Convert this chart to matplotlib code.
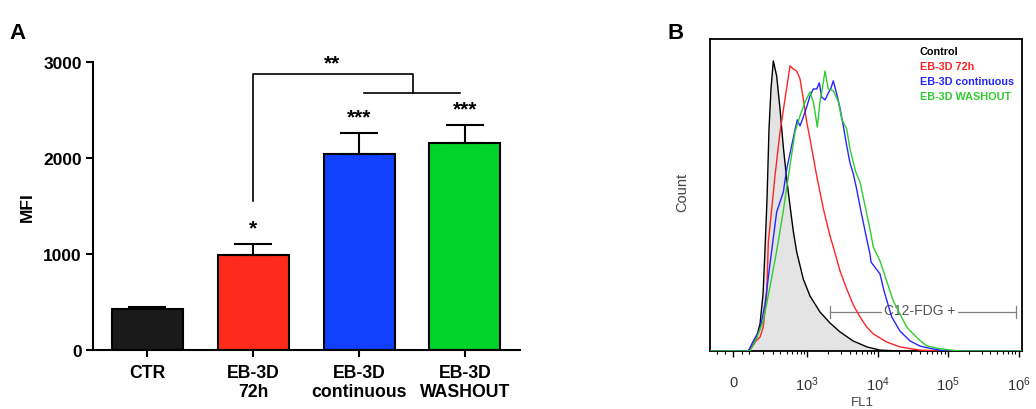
import matplotlib
matplotlib.use("Agg")
import matplotlib.pyplot as plt
import numpy as np

plt.rcParams["font.family"] = ["Liberation Sans", "DejaVu Sans"]
plt.rcParams["mathtext.default"] = "regular"

# ---- panel A: MFI bar chart ----
groups = ["CTR", "EB-3D\n72h", "EB-3D\ncontinuous", "EB-3D\nWASHOUT"]
mfi = [427, 985, 2043, 2161]
mfi_sem = [20, 115, 215, 180]
bar_colors = ["#1a1a1a", "#ff2a1a", "#1240ff", "#00d42a"]
stars = ["", "*", "***", "***"]

# ---- panel B: FL1 histograms (FL1 value, count) ----
ctrl_fl1 = [-147, 91, 118, 147, 178, 204, 222, 241, 261, 282, 308, 349, 394, 443, 499, 559,
            625, 701, 875, 1094, 1519, 2111, 2930, 4481, 7075, 10822, 20799, 1.12e6]
ctrl_cnt = [0, 0, 1.7, 4.2, 9.3, 19.7, 35.3, 52.6, 76.9, 90.7, 100.4, 95.2, 83.8, 70.6, 59.5, 50.2,
            41.5, 34.3, 24.9, 19.0, 13.5, 9.7, 6.6, 3.5, 1.4, 0.3, 0, 0]

h72_fl1 = [-147, 91, 118, 147, 178, 206, 238, 254, 290, 328, 394, 470, 559, 625, 701,
           784, 875, 980, 1094, 1364, 1699, 2111, 2352, 2930, 3644, 4525, 5634, 7011,
           8695, 13475, 20799, 39952, 76843, 1.12e6]
h72_cnt = [0, 0, 1.4, 3.5, 4.8, 8.3, 19.7, 37.7, 49.2, 60.6, 75.8, 87.2, 98.7, 97.6, 96.9,
           94.2, 87.2, 79.3, 73.4, 60.6, 49.2, 39.8, 36.0, 27.7, 21.5, 15.9, 11.8, 8.3,
           5.9, 3.1, 1.4, 0.3, 0, 0]

cont_fl1 = [-147, 93, 127, 178, 222, 271, 349, 443, 499, 592, 663, 716, 784, 875, 980, 1094,
            1220, 1364, 1486, 1607, 1792, 1995, 2160, 2352, 2629, 2930, 3261, 3644, 4061, 4525,
            5057, 5634, 7011, 7805, 8067, 10822, 12344, 15860, 20799, 28836, 39952, 55411,
            76843, 95675, 1.12e6]
cont_cnt = [0, 0, 3.5, 7.6, 16.3, 30.1, 48.1, 55.0, 63.0, 71.1, 76.6, 80.0, 77.9, 81.0, 84.5, 88.3,
            90.7, 90.7, 92.8, 87.9, 86.9, 89.3, 90.7, 93.5, 89.0, 84.0, 78.0, 71.1, 65.1, 61.3,
            56.0, 50.0, 38.8, 33.6, 30.8, 26.7, 20.8, 11.8, 6.9, 3.5, 1.7, 0.9,
            0.3, 0, 0]

wash_fl1 = [-147, 104, 152, 206, 271, 349, 443, 559, 663, 784, 927, 1094, 1220, 1290, 1391, 1519,
            1662, 1792, 1995, 2352, 2784, 3095, 3644, 4061, 4895, 5634, 7805,
            8695, 10822, 13475, 16714, 20799, 25890, 32129, 39952, 49742, 68975, 95675, 147700,
            1.12e6]
wash_cnt = [0, 0, 4.5, 10.4, 22.2, 34.6, 48.5, 64.2, 75.8, 81.4, 86.2, 89.7, 86.2, 82.7, 77.5, 86.2,
            91.7, 96.9, 90.7, 90.1, 86.2, 80.3, 76.9, 69.9, 62.0, 58.5, 42.2,
            36.0, 31.2, 24.2, 17.3, 12.8, 8.3, 5.9, 3.6, 1.8, 1.0, 0.5, 0,
            0]

hist_labels = ["Control", "EB-3D 72h", "EB-3D continuous", "EB-3D WASHOUT"]
hist_colors = ["#000000", "#ff2424", "#2626ff", "#2fcc2f"]
gate = (2111, 9.2e5)
gate_level = 13.5

fig = plt.figure(figsize=(10.36, 4.10), dpi=100)

# ===== Panel A =====
ax = fig.add_axes([0.0898, 0.1439, 0.4122, 0.7024])
x = np.arange(len(groups))
ax.bar(x, mfi, width=0.67, color=bar_colors, edgecolor="black", linewidth=1.5, zorder=2)
ax.errorbar(x, mfi, yerr=[np.zeros(len(mfi)), mfi_sem], fmt="none", ecolor="black",
            elinewidth=1.5, capsize=13.5, capthick=1.5, zorder=3)
for xi, m, s, lab in zip(x, mfi, mfi_sem, stars):
    if lab:
        ax.text(xi, m + s + 170, lab, ha="center", va="center", fontsize=15,
                fontweight="bold")

# bracket: 72h vs (continuous + washout)
kw = dict(color="black", lw=1.2, clip_on=False)
ax.plot([1, 1, 2.51, 2.51], [1554, 2879, 2879, 2681], **kw)
ax.plot([2.05, 2.95], [2681, 2681], **kw)
ax.text(1.75, 2990, "**", ha="center", va="center", fontsize=15, fontweight="bold")

ax.set_xlim(-0.51, 3.52)
ax.set_ylim(0, 3000)
ax.set_yticks([0, 1000, 2000, 3000])
ax.set_xticks(x)
ax.set_xticklabels(groups, fontsize=12.7, fontweight="bold", linespacing=1.2)
for t in ax.get_yticklabels():
    t.set_fontweight("bold")
    t.set_fontsize(12.5)
ax.set_ylabel("MFI", fontsize=12.5, fontweight="bold", labelpad=6)
ax.spines["top"].set_visible(False)
ax.spines["right"].set_visible(False)
ax.spines["left"].set_linewidth(1.5)
ax.spines["bottom"].set_linewidth(1.5)
ax.tick_params(direction="out", length=5, width=1.5, pad=3)
ax.tick_params(axis="x", pad=5)
fig.text(0.009, 0.905, "A", fontsize=16, fontweight="bold")

# ===== Panel B =====
bx = fig.add_axes([0.6853, 0.1415, 0.3012, 0.761])


def fwd(v):
    return np.arcsinh(np.asarray(v) / 178.0) / np.log(10)


def inv(v):
    return 178.0 * np.sinh(np.asarray(v) * np.log(10))


bx.set_xscale("function", functions=(fwd, inv))
bx.fill_between(ctrl_fl1, ctrl_cnt, color="#e4e4e4", lw=0, zorder=1)
series = [(ctrl_fl1, ctrl_cnt), (h72_fl1, h72_cnt), (cont_fl1, cont_cnt), (wash_fl1, wash_cnt)]
order = [0, 1, 3, 2]
for i in order:
    fx, fc = series[i]
    bx.plot(fx, fc, color=hist_colors[i], lw=1.0, zorder=3 + i)

# gate
gcol = "#808080"
bx.plot(gate, [gate_level, gate_level], color=gcol, lw=0.9, zorder=2)
for g in gate:
    bx.plot([g, g], [gate_level - 2, gate_level + 2], color=gcol, lw=0.9, zorder=2)
bx.text(39952, gate_level + 0.8, "C12-FDG +", ha="center", va="center", fontsize=10,
        color="#555555", zorder=2,
        bbox=dict(facecolor="white", edgecolor="none", pad=1.5))

for k, (lab, col) in enumerate(zip(hist_labels, hist_colors)):
    bx.text(0.673, 0.9625 - k * 0.048, lab, transform=bx.transAxes, color=col,
            fontsize=7.8, fontweight="bold", ha="left", va="center")

bx.set_xlim(-147, 1.12e6)
bx.set_ylim(0, 108)
bx.set_xticks([0, 1e3, 1e4, 1e5, 1e6])
bx.set_xticklabels(["0", "$10^3$", "$10^4$", "$10^5$", "$10^6$"], fontsize=10.5, color="#333333")
minor = [-100, -50, 50, 100, 200, 300, 400, 500, 600, 700, 800, 900]
for dec in [1e3, 1e4, 1e5]:
    minor += [m * dec for m in range(2, 10)]
bx.set_xticks(minor, minor=True)
bx.set_yticks([])
bx.tick_params(axis="x", which="major", direction="out", length=4, width=1.0, pad=13)
bx.tick_params(axis="x", which="minor", direction="out", length=2.5, width=0.8)
for s in bx.spines.values():
    s.set_linewidth(1.3)
bx.set_ylabel("Count", fontsize=10.5, color="#444444")
bx.yaxis.set_label_coords(-0.065, 0.51)
bx.set_xlabel("FL1", fontsize=9.5, color="#444444")
bx.xaxis.set_label_coords(0.49, -0.145)
fig.text(0.644, 0.905, "B", fontsize=16, fontweight="bold")

fig.savefig("out.png", dpi=100)
